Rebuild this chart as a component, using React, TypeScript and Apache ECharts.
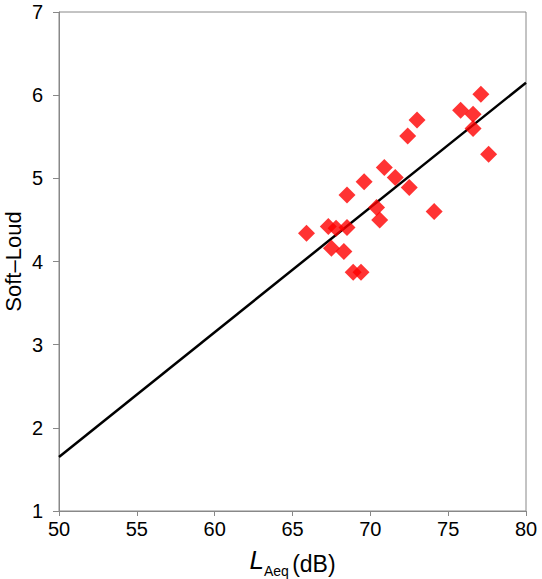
import React, { useEffect, useRef } from "react";
import * as echarts from "echarts";

const laeq = [65.9, 67.3, 67.8, 68.5, 67.5, 68.3, 68.9, 69.4, 68.5, 69.6, 70.9, 71.6, 70.4, 70.6, 72.5, 72.4, 73.0, 74.1, 75.8, 76.6, 76.6, 77.1, 77.6];
const softLoud = [4.34, 4.42, 4.4, 4.41, 4.16, 4.12, 3.87, 3.87, 4.8, 4.96, 5.13, 5.01, 4.65, 4.5, 4.89, 5.51, 5.7, 4.6, 5.82, 5.77, 5.6, 6.01, 5.29];
const fitX = [50, 80];
const fitY = [1.65, 6.15];
const xTicks = [50, 55, 60, 65, 70, 75, 80];
const yTicks = [1, 2, 3, 4, 5, 6, 7];

export default function App() {
  const ref = useRef<HTMLDivElement>(null);
  useEffect(() => {
    if (!ref.current) return;
    const chart = echarts.init(ref.current, undefined, { renderer: "svg" });
    const font = "Liberation Sans, Arial, sans-serif";
    chart.setOption({
      animation: false,
      grid: {
        left: 59,
        right: 16,
        top: 12,
        bottom: 68,
        containLabel: false,
        outerBoundsMode: "none",
        show: true,
        borderColor: "#888",
        borderWidth: 1,
      },
      xAxis: {
        type: "value",
        min: xTicks[0],
        max: xTicks[xTicks.length - 1],
        interval: 5,
        splitLine: { show: false },
        axisLine: { show: true, lineStyle: { color: "#888" } },
        axisTick: { show: true, length: 5, lineStyle: { color: "#888" } },
        axisLabel: { color: "#000", fontSize: 20, fontFamily: font, margin: 8 },
        name: "{i|L}{s|Aeq} {n|(dB)}",
        nameLocation: "middle",
        nameGap: 36,
        nameMoveOverlap: false,
        nameTextStyle: {
          rich: {
            i: { fontStyle: "italic", fontSize: 26, fontFamily: font, color: "#000", lineHeight: 28, verticalAlign: "top" },
            s: { fontSize: 14, fontFamily: font, color: "#000", lineHeight: 14, verticalAlign: "bottom", padding: [0, 0, -3, 0] },
            n: { fontSize: 23, fontFamily: font, color: "#000", lineHeight: 26, verticalAlign: "bottom" },
          },
        },
      },
      yAxis: {
        type: "value",
        min: yTicks[0],
        max: yTicks[yTicks.length - 1],
        interval: 1,
        splitLine: { show: false },
        axisLine: { show: true, lineStyle: { color: "#888" } },
        axisTick: { show: true, length: 6, lineStyle: { color: "#888" } },
        axisLabel: { color: "#000", fontSize: 20, fontFamily: font, margin: 16 },
        name: "Soft–Loud",
        nameLocation: "middle",
        nameGap: 35,
        nameMoveOverlap: false,
        nameTextStyle: { color: "#000", fontSize: 22, fontFamily: font },
      },
      series: [
        {
          type: "line",
          data: fitX.map((x, i) => [x, fitY[i]]),
          showSymbol: false,
          symbol: "none",
          lineStyle: { color: "#000", width: 2.5 },
          z: 1,
        },
        {
          type: "scatter",
          data: laeq.map((x, i) => [x, softLoud[i]]),
          symbol: "diamond",
          symbolSize: 17,
          itemStyle: { color: "#ff0000" },
          z: 2,
        },
      ],
    });
    return () => chart.dispose();
  }, []);
  return <div ref={ref} style={{ width: 542, height: 579, position: "absolute", left: 0, top: 0 }} />;
}
